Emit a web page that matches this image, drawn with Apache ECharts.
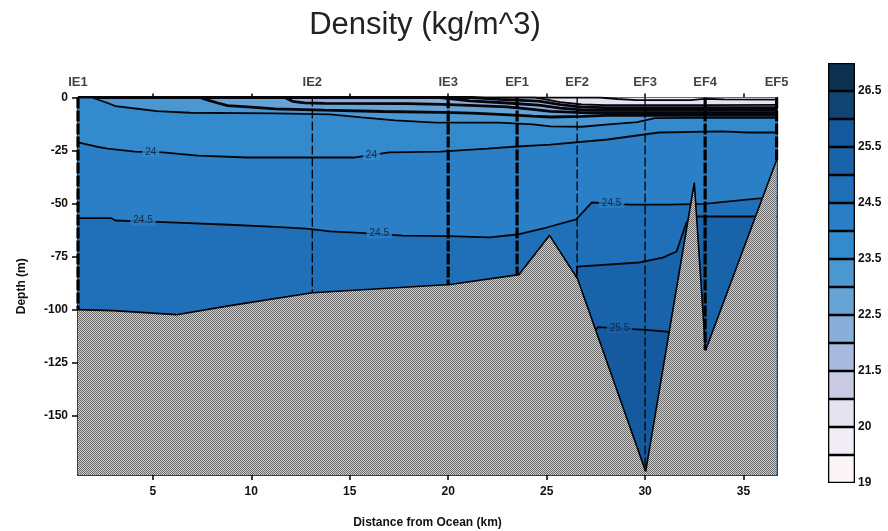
<!DOCTYPE html>
<html><head><meta charset="utf-8">
<script src="https://cdn.jsdelivr.net/npm/echarts@6/dist/echarts.min.js"></script>
<style>html,body{margin:0;padding:0;background:#fff}#c{width:888px;height:531px}</style>
</head><body><div id="c"></div>
<script>
// ---------------- data ----------------
const chartTitle = 'Density (kg/m^3)';
const xTicks = [5, 10, 15, 20, 25, 30, 35];
const yTicks = [0, -25, -50, -75, -100, -125, -150];
const rightTicks = [-50, -100, -150];

const stationNames = ['IE1', 'IE2', 'IE3', 'EF1', 'EF2', 'EF3', 'EF4', 'EF5'];
const stationKm = [1.2, 13.1, 20.0, 23.5, 26.55, 30.0, 33.05, 36.68];
const stationBottom = [-100, -92, -88.5, -83.5, -85.5, -176, -119, -29.5];

const colorbarLevels = [19, 19.5, 20, 21, 21.5, 22, 22.5, 23, 23.5, 24, 24.5, 25, 25.5, 26, 26.5, 27];
const colorbarLabelLevels = [19, 20, 21.5, 22.5, 23.5, 24.5, 25.5, 26.5];

// contour lines: [distance km, depth m]
const contour20 = [[1.2,0],[27.7,0],[28.6,-0.7],[29.6,-1.2],[32.3,-1.2],[33.0,-0.6],[34.0,-0.9],[36.7,-1.0]];
const contour21 = [[1.2,0],[24.4,0],[24.8,-0.6],[25.7,-2.2],[26.8,-3.3],[28.0,-3.6],[33.0,-3.6],[36.7,-3.5]];
const contour21_5 = [[1.2,0],[21.2,0],[22.6,-0.9],[24.6,-1.7],[25.7,-3.4],[26.8,-4.5],[28.0,-4.8],[36.7,-4.8]];
const contour22 = [[1.2,0],[19.6,0],[21.1,-1.6],[23.0,-2.6],[24.6,-3.6],[25.7,-5.0],[26.8,-5.8],[28.0,-6.0],[36.7,-6.0]];
const contour22_5 = [[1.2,0],[11.7,0],[12.1,-1.8],[12.7,-2.5],[13.7,-2.8],[17.9,-2.9],[19.7,-3.2],[21.1,-3.7],[23.0,-4.4],[24.3,-5.6],[25.2,-6.5],[26.8,-7.1],[28.0,-7.2],[36.7,-7.2]];
const contour23 = [[1.2,0],[7.4,0],[7.8,-1.2],[8.3,-2.6],[8.8,-3.8],[10.0,-4.5],[11.2,-5.4],[13.7,-6.0],[16.7,-6.6],[19.7,-7.0],[21.2,-7.4],[22.6,-8.0],[24.3,-8.8],[25.2,-9.2],[26.8,-8.9],[28.0,-8.4],[36.7,-8.4]];
const contour23_5 = [[1.2,0],[1.9,0],[2.7,-2.6],[3.1,-4.1],[4.2,-5.3],[5.2,-6.4],[6.9,-7.2],[11.2,-7.5],[14.0,-8.0],[15.6,-9.4],[17.3,-10.8],[19.4,-11.8],[22.6,-11.8],[24.3,-12.7],[25.2,-13.6],[26.8,-13.8],[28.0,-12.8],[29.6,-11.6],[30.5,-9.7],[32.3,-9.6],[36.7,-9.6]];
const contour24 = [[1.2,-21.2],[2.1,-23.1],[2.7,-24.1],[4.1,-25.5],[5.5,-25.9],[7.3,-27.4],[9.8,-28.3],[12.5,-28.3],[15.2,-28.3],[17.0,-25.9],[19.6,-25.5],[22.0,-24.1],[23.5,-23.1],[25.2,-22.2],[28.1,-19.8],[30.7,-16.5],[33.9,-16.0],[35.2,-16.5],[36.7,-16.5]];
const contour24_5 = [[1.2,-56.9],[2.9,-56.9],[3.1,-58.0],[5.9,-58.9],[8.9,-60.0],[11.2,-61.0],[12.8,-61.8],[14.0,-63.1],[15.3,-63.7],[17.7,-65.1],[20.0,-65.4],[22.1,-66.0],[23.5,-64.6],[25.0,-61.3],[26.5,-57.5],[27.3,-49.5],[29.2,-50.5],[31.2,-50.5],[33.0,-50.2],[35.8,-47.6],[36.7,-47.6]];
const contour25 = [[25.5,-110],[26.45,-95],[26.55,-79.7],[29.7,-77.8],[30.9,-75.5],[31.6,-72.6],[32.1,-59],[32.6,-56.1],[35.5,-56.1],[36.7,-56.1]];
const contour25_5 = [[27.0,-115],[27.6,-108.3],[30.05,-109.6],[31.1,-110.4],[31.8,-114]];

const contourLevels = [20, 21, 21.5, 22, 22.5, 23, 23.5, 24, 24.5, 25, 25.5];
const contourLines = [contour20, contour21, contour21_5, contour22, contour22_5, contour23, contour23_5, contour24, contour24_5, contour25, contour25_5];

const contourLabelLevels = [24, 24, 24.5, 24.5, 24.5, 25.5];
const contourLabelPos = [[4.9,-25.6],[16.1,-27.2],[4.5,-58.0],[16.5,-64.2],[28.3,-49.7],[28.7,-108.8]];

const bathymetry = [[1.2,-100],[3.0,-100.5],[6.2,-102.4],[9.0,-98],[13.1,-92.1],[20.1,-88.2],[23.6,-83.5],[25.15,-65],[26.57,-85.5],[30.03,-176.4],[32.5,-40.2],[33.07,-119.3],[36.68,-29.5]];

// ---------------- styles ----------------
const boxColors = ['#fcf4f6','#f2edf5','#e6e3f1','#c8cae3','#a8badd','#88aed9','#68a3d5','#4a97d2','#338bce','#2a7fc6','#1f70b8','#1863aa','#155a9e','#104473','#0c3150'];
const heavyStations = new Set(['IE1','IE3','EF1','EF4','EF5']);
const crowdedLevels = new Set([21.5, 22, 22.5, 23]);
const FONT = 'Liberation Sans';
const XMIN = 1.2, XMAX = 36.7, YMIN = -178, YMAX = 0;

function colorAbove(level) { // fill colour for densities just above the given level
  return boxColors[colorbarLevels.indexOf(level)];
}

const pat = document.createElement('canvas');
pat.width = 2; pat.height = 2;
const pctx = pat.getContext('2d');
pctx.fillStyle = '#d0d0d0'; pctx.fillRect(0,0,2,2);
pctx.fillStyle = '#686868'; pctx.fillRect(0,0,1,1); pctx.fillRect(1,1,1,1);

const series = [];
// base (lightest water at the very top)
series.push({
  type: 'line', xAxisIndex: 0, yAxisIndex: 0, data: [[XMIN,0],[XMAX,0]],
  symbol: 'none', lineStyle: {width: 0}, z: 1, silent: true,
  areaStyle: {color: colorAbove(19.5), opacity: 1, origin: 'start'}
});
contourLines.forEach((ln, i) => {
  series.push({
    type: 'line', xAxisIndex: 0, yAxisIndex: 0, data: ln, symbol: 'none', z: 2 + i, silent: true,
    lineStyle: {color: '#05050c', width: crowdedLevels.has(contourLevels[i]) ? 2.8 : 1.8},
    areaStyle: {color: colorAbove(contourLevels[i]), opacity: 1, origin: 'start'}
  });
});
// contour labels
series.push({
  type: 'scatter', xAxisIndex: 0, yAxisIndex: 0, symbolSize: 0, z: 18, silent: true,
  data: contourLabelPos.map((p, i) => {
    const lv = contourLabelLevels[i];
    const prev = colorbarLevels[colorbarLevels.indexOf(lv) - 1];
    return {value: [p[0], p[1], lv], label: {backgroundColor: colorAbove(prev)}};
  }),
  label: {show: true, position: 'inside', formatter: p => String(p.data.value[2]),
    fontFamily: FONT, fontSize: 10, color: '#0a1a30', padding: [0, 3]}
});
// bathymetry
series.push({
  type: 'line', xAxisIndex: 0, yAxisIndex: 0, data: bathymetry, symbol: 'none', z: 20, silent: true,
  lineStyle: {color: '#000', width: 1.6},
  areaStyle: {color: {image: pat, repeat: 'repeat'}, opacity: 1, origin: 'start'}
});
// station casts
stationNames.forEach((nm, i) => {
  const heavy = heavyStations.has(nm);
  series.push({
    type: 'line', xAxisIndex: 0, yAxisIndex: 0, symbol: 'none', z: 22, silent: true,
    data: [[stationKm[i], 0], [stationKm[i], stationBottom[i]]],
    lineStyle: {color: '#000', width: heavy ? 3.2 : 1.3, type: heavy ? [11, 2] : [9, 3]}
  });
});
// station names
series.push({
  type: 'scatter', xAxisIndex: 0, yAxisIndex: 0, symbolSize: 0, z: 30, clip: false, silent: true,
  data: stationNames.map((nm, i) => [stationKm[i], 0, nm]),
  label: {show: true, position: 'top', distance: 9, formatter: p => p.data[2],
    fontFamily: FONT, fontWeight: 'bold', fontSize: 13, color: '#111'}
});
// colorbar
boxColors.forEach((c, i) => {
  series.push({
    type: 'bar', xAxisIndex: 2, yAxisIndex: 2, stack: 'cb', barWidth: '100%', silent: true,
    data: [1],
    itemStyle: {color: c, borderColor: '#000', borderWidth: 1.3}
  });
});

const axisTextStyle = {fontFamily: FONT, fontWeight: 'bold', fontSize: 12, color: '#111'};
const option = {
  animation: false,
  backgroundColor: '#fff',
  title: {text: chartTitle, left: 420, top: 5, textAlign: 'center',
    textStyle: {fontFamily: FONT, fontWeight: 'normal', fontSize: 31, color: '#222'}},
  grid: [
    {left: 78, top: 97.5, width: 699, height: 377.5, outerBoundsMode: 'none', containLabel: false},
    {left: 828, top: 63, width: 27, height: 420, outerBoundsMode: 'none', containLabel: false}
  ],
  xAxis: [
    {type: 'value', gridIndex: 0, position: 'bottom', min: XMIN, max: XMAX,
      axisLine: {show: true, onZero: false, lineStyle: {color: '#000', width: 1.5}},
      axisTick: {show: true, customValues: xTicks, length: 5, lineStyle: {color: '#000', width: 1.5}},
      axisLabel: {customValues: xTicks, margin: 11, ...axisTextStyle},
      splitLine: {show: false},
      name: 'Distance from Ocean (km)', nameLocation: 'middle', nameGap: 42,
      nameTextStyle: axisTextStyle},
    {type: 'value', gridIndex: 0, position: 'top', min: XMIN, max: XMAX,
      axisLine: {show: true, onZero: false, lineStyle: {color: '#000', width: 1.5}},
      axisTick: {show: true, customValues: xTicks, length: 4, lineStyle: {color: '#000', width: 1.5}},
      axisLabel: {show: false}, splitLine: {show: false}},
    {type: 'category', gridIndex: 1, data: ['cb'], show: false, boundaryGap: true}
  ],
  yAxis: [
    {type: 'value', gridIndex: 0, position: 'left', min: YMIN, max: YMAX,
      axisLine: {show: true, onZero: false, lineStyle: {color: '#000', width: 1.5}},
      axisTick: {show: true, customValues: yTicks, length: 6, lineStyle: {color: '#000', width: 1.5}},
      axisLabel: {customValues: yTicks, margin: 10, ...axisTextStyle},
      splitLine: {show: false},
      name: 'Depth (m)', nameLocation: 'middle', nameGap: 50, nameRotate: 90,
      nameTextStyle: axisTextStyle},
    {type: 'value', gridIndex: 0, position: 'right', min: YMIN, max: YMAX,
      axisLine: {show: true, onZero: false, lineStyle: {color: '#000', width: 1.5}},
      axisTick: {show: true, inside: true, customValues: rightTicks, length: 4, lineStyle: {color: '#000', width: 1.2}},
      axisLabel: {show: false}, splitLine: {show: false}},
    {type: 'value', gridIndex: 1, position: 'right', min: 0, max: 15,
      axisLine: {show: false}, axisTick: {show: false}, splitLine: {show: false},
      axisLabel: {customValues: colorbarLabelLevels.map(v => colorbarLevels.indexOf(v)),
        formatter: v => String(colorbarLevels[Math.round(v)]), margin: 3, ...axisTextStyle}}
  ],
  series: series
};
const chart = echarts.init(document.getElementById('c'), null, {renderer: 'canvas'});
chart.setOption(option);
</script></body></html>
